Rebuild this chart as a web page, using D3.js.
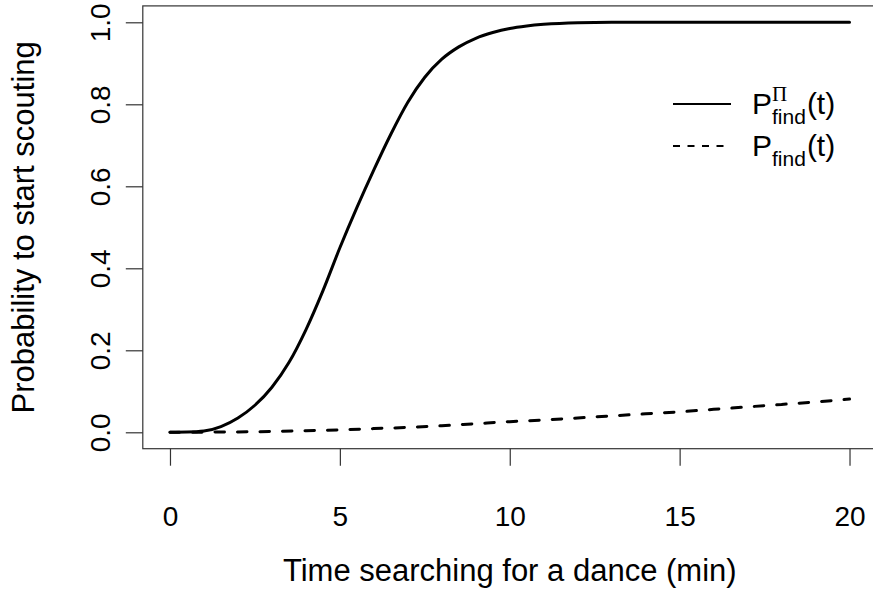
<!DOCTYPE html>
<html>
<head>
<meta charset="utf-8">
<script src="https://cdn.jsdelivr.net/npm/d3@7"></script>
<style>
  html, body { margin: 0; padding: 0; background: #fff; }
  svg { display: block; }
  text { font-family: "Liberation Sans", Arial, Helvetica, sans-serif; fill: #000; }
</style>
</head>
<body>
<svg id="chart" width="873" height="589"></svg>
<script>
// Time grid (minutes) for the two curves
const timeFine = [0, 0.5, 1, 1.5, 2, 2.5, 3, 3.5, 4, 4.5, 5, 5.5, 6, 6.5, 7, 7.5, 8, 8.5, 9, 9.5, 10, 10.5, 11, 12, 13, 14, 15, 16, 17, 18, 19, 20];
// P^Pi_find(t): probability to start scouting when the dance is found
const pFindPi = [0, 0.0005, 0.003, 0.014, 0.035, 0.066, 0.11, 0.17, 0.25, 0.345, 0.45, 0.548, 0.64, 0.727, 0.805, 0.866, 0.91, 0.94, 0.961, 0.975, 0.985, 0.991, 0.995, 0.999, 1.0, 1.0, 1.0, 1.0, 1.0, 1.0, 1.0, 1.0];

const timeCoarse = [0, 1, 2, 3, 4, 5, 6, 7, 8, 9, 10, 11, 12, 13, 14, 15, 16, 17, 18, 19, 20];
// P_find(t)
const pFind = [0, 0.0003, 0.001, 0.002, 0.004, 0.006, 0.009, 0.012, 0.016, 0.021, 0.026, 0.030, 0.035, 0.040, 0.045, 0.050, 0.056, 0.062, 0.068, 0.074, 0.081];

const xTicks = [0, 5, 10, 15, 20];
const yTicks = [0, 0.2, 0.4, 0.6, 0.8, 1.0];
const xTitle = "Time searching for a dance (min)";
const yTitle = "Probability to start scouting";

const svg = d3.select("#chart");

// Plot region: data range padded by 4% on each side
const x = d3.scaleLinear().domain([-0.8, 20.8]).range([142.8, 876.7]);
const y = d3.scaleLinear().domain([-0.04, 1.04]).range([448.7, 5.9]);

const axisColor = "#333";

// Frame around the plot region
svg.append("rect")
  .attr("x", x(-0.8)).attr("y", y(1.04))
  .attr("width", x(20.8) - x(-0.8)).attr("height", y(-0.04) - y(1.04))
  .attr("fill", "none").attr("stroke", axisColor).attr("stroke-width", 1.2);

// Bottom axis
const xAxis = d3.axisBottom(x).tickValues(xTicks).tickSize(17).tickPadding(60)
  .tickFormat(d3.format("d"));
const gx = svg.append("g").attr("transform", `translate(0,${y(-0.04)})`).call(xAxis);
gx.select(".domain").remove();
gx.selectAll(".tick line").attr("stroke", axisColor).attr("stroke-width", 1.2);
gx.selectAll(".tick text").attr("font-size", 28).attr("dy", 0)
  .style("font-family", "'Liberation Sans', Arial, sans-serif");

// Left axis with rotated labels
const yAxis = d3.axisLeft(y).tickValues(yTicks).tickSize(17).tickFormat(d3.format(".1f"));
const gy = svg.append("g").attr("transform", `translate(${x(-0.8)},0)`).call(yAxis);
gy.select(".domain").remove();
gy.selectAll(".tick line").attr("stroke", axisColor).attr("stroke-width", 1.2);
gy.selectAll(".tick text")
  .attr("font-size", 28)
  .attr("x", null).attr("dy", null)
  .attr("text-anchor", "middle")
  .attr("transform", "translate(-33,0) rotate(-90)")
  .style("font-family", "'Liberation Sans', Arial, sans-serif");

// Axis titles
svg.append("text")
  .attr("x", (x(-0.8) + x(20.8)) / 2).attr("y", 581)
  .attr("text-anchor", "middle").attr("font-size", 31)
  .text(xTitle);
svg.append("text")
  .attr("transform", `translate(34,${(y(-0.04) + y(1.04)) / 2}) rotate(-90)`)
  .attr("text-anchor", "middle").attr("font-size", 31)
  .text(yTitle);

// Curves
const line = d3.line().x(d => x(d[0])).y(d => y(d[1])).curve(d3.curveMonotoneX);

svg.append("path")
  .datum(timeFine.map((t, i) => [t, pFindPi[i]]))
  .attr("d", line)
  .attr("fill", "none").attr("stroke", "#000").attr("stroke-width", 3)
  .attr("stroke-linecap", "round").attr("stroke-linejoin", "round");

svg.append("path")
  .datum(timeCoarse.map((t, i) => [t, pFind[i]]))
  .attr("d", line)
  .attr("fill", "none").attr("stroke", "#000").attr("stroke-width", 3)
  .attr("stroke-dasharray", "9.5 13")
  .attr("stroke-linecap", "round");

// Legend
const legend = svg.append("g");
const rows = [
  { y: 104, dash: null, sup: "\u03A0" },
  { y: 146, dash: "7 7.5", sup: null }
];
rows.forEach(r => {
  legend.append("line")
    .attr("x1", 673).attr("x2", 731).attr("y1", r.y).attr("y2", r.y)
    .attr("stroke", "#000").attr("stroke-width", 2)
    .attr("stroke-dasharray", r.dash);
  const baseY = r.y + 10;
  const P = legend.append("text").attr("x", 752).attr("y", baseY)
    .attr("font-size", 30).text("P");
  const pw = P.node().getComputedTextLength();
  const sub = legend.append("text").attr("x", 752 + pw).attr("y", baseY + 10)
    .attr("font-size", 21).text("find");
  const sw = sub.node().getComputedTextLength();
  if (r.sup) {
    legend.append("text").attr("x", 752 + pw).attr("y", baseY - 13)
      .attr("font-size", 21)
      .style("font-family", "'Liberation Serif', 'DejaVu Serif', serif")
      .text(r.sup);
  }
  legend.append("text").attr("x", 752 + pw + sw + 1).attr("y", baseY)
    .attr("font-size", 30).text("(t)");
});
</script>
</body>
</html>
